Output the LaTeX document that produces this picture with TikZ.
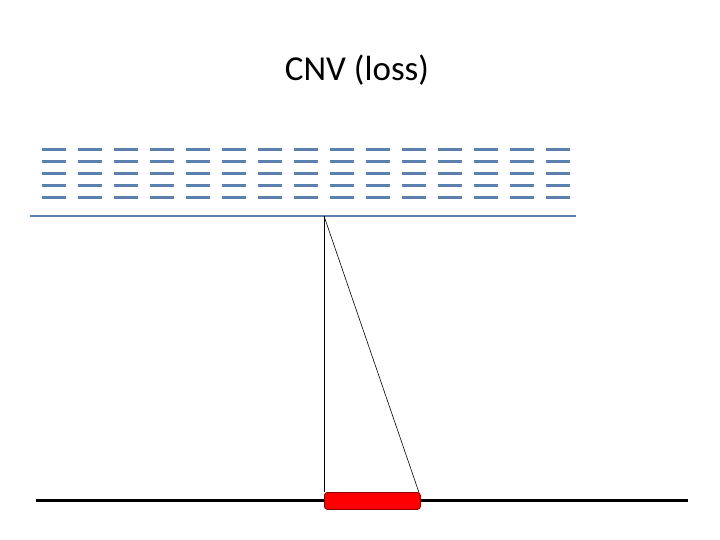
\documentclass[tikz,border=0pt]{standalone}
\usepackage{fontspec}
\setmainfont{Carlito}
\definecolor{blu}{HTML}{5B80B0}
\definecolor{dred}{HTML}{8B0000}
\begin{document}
\begin{tikzpicture}[x=1pt,y=-1pt,
  dashseg/.style={blu,line width=3pt},
  thin/.style={black,line width=0.6pt}]
\useasboundingbox (0,0) rectangle (720,540);
\node (title) at (357,70) {\fontsize{35}{40}\selectfont CNV (loss)};
\foreach \r in {0,...,4}{
  \foreach \c in {0,...,14}{
    \draw[dashseg] ({42+36*\c},{150+12*\r}) -- ++(24,0);
  }
}
\coordinate (top) at (324,216);
\draw[blu,line width=2.5pt] (30,216) -- (576,216);
\draw[black,line width=3pt] (36,500) -- (688,500);
\node[draw=dred,fill=red,rounded corners=3pt,minimum width=96pt,minimum height=17pt,inner sep=0,line width=0.8pt,anchor=north west] (seg) at (324,492) {};
\draw[thin] (top) -- (seg.north west);
\draw[thin] (top) -- ([xshift=-2pt]seg.north east);
\end{tikzpicture}
\end{document}
